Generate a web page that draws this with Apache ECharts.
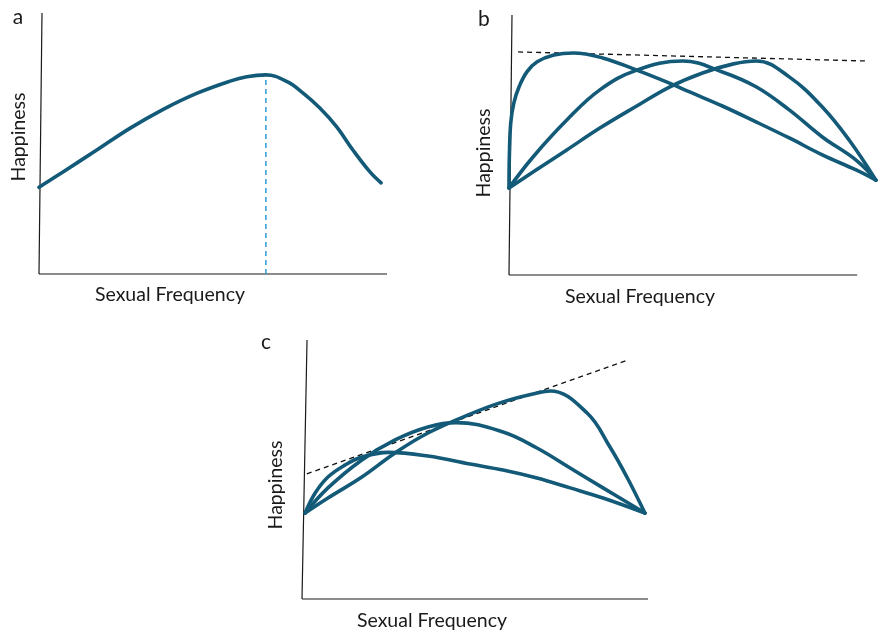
<!DOCTYPE html>
<html>
<head>
<meta charset="utf-8">
<script src="https://cdn.jsdelivr.net/npm/echarts@6/dist/echarts.min.js"></script>
<style>
html,body{margin:0;padding:0;background:#fff;}
#chart{width:878px;height:633px;}
</style>
</head>
<body>
<div id="chart"></div>
<script>
// ---- Data (x: sexual frequency, y: happiness, arbitrary 0-100 units) ----
const curveA = [[0,33.2],[7.0,39.2],[16.6,47.5],[26.1,55.8],[35.7,63.1],[45.3,69.2],[54.9,73.9],[59.7,75.6],[65.2,76.3],[71.3,73.7],[75.9,69.3],[80.7,63.6],[85.6,56.3],[90.2,47.5],[95.1,39.1],[98.3,34.9]];
const peakLineA = [[65.2,0],[65.2,76.3]];

const curveB1 = [[0,33.5],[0.1,45.4],[0.5,58.5],[1.4,66.2],[2.9,72.4],[5.2,78.2],[8.1,82.0],[12.9,84.6],[18.5,85.4],[26.9,83.5],[36.7,78.8],[46.1,73.8],[51.9,70.4],[61.3,65.0],[71.1,58.8],[80.5,52.7],[90.0,46.2],[99.7,40.4],[105.4,36.5]];
const curveB2 = [[0,33.5],[6.9,45.4],[16.6,59.6],[26.1,71.2],[36.7,78.8],[49.9,82.3],[61.3,78.1],[71.1,72.3],[80.5,63.5],[90.0,53.1],[99.7,44.2],[105.4,36.5]];
const curveB3 = [[0,33.5],[6.9,39.6],[16.6,48.1],[26.1,56.5],[36.7,65.0],[46.1,72.3],[55.6,77.7],[64.5,81.2],[71.1,82.3],[80.5,76.2],[90.0,64.6],[97.7,51.9],[105.4,36.5]];
const envelopeB = [[2.6,85.8],[102.9,82.3]];

const curveC1 = [[0.9,33.2],[3.8,40.9],[7.5,47.1],[12.4,51.7],[17.3,54.8],[25.0,56.6],[36.4,55.2],[48.6,52.1],[58.1,49.8],[67.9,46.7],[77.5,42.9],[87.0,39.0],[99.1,33.2]];
const curveC2 = [[0.9,33.2],[7.5,42.9],[17.3,53.7],[26.9,61.4],[36.4,66.4],[44.5,68.1],[58.1,64.5],[67.9,58.3],[77.5,50.6],[87.0,42.9],[99.1,33.2]];
const curveC3 = [[0.9,33.2],[7.5,39.0],[17.3,47.1],[26.9,56.4],[36.4,64.1],[48.6,71.4],[58.1,76.1],[67.9,79.5],[71.7,80.3],[82.4,71.8],[89.0,58.7],[93.9,47.1],[99.1,33.2]];
const envelopeC = [[1.4,48.3],[94.2,92.3]];

// hand-drawn axes: y axis slightly tilted [bottom, top]; x axis [start, end]
const yAxisLineA = [[0,0],[0.86,100]];
const yAxisLineB = [[0,0],[0.86,100]];
const yAxisLineC = [[0,0],[1.45,100]];
const xAxisLineA = [[0,0],[100,0]];
const xAxisLineB = [[0,0],[100,0]];
const xAxisLineC = [[0,0],[100,0]];

const panelLetters = ['a','b','c'];
const xTitle = 'Sexual Frequency';
const yTitle = 'Happiness';

// ---- Styling ----
const CURVE = '#135a78';
const FONT = 'Lato, "Open Sans", sans-serif';
const XMAX = [100, 106, 100];

const grids = [
  {left:39, top:13, width:348, height:261},
  {left:509, top:15, width:349*1.06, height:260},
  {left:302, top:340, width:346, height:259}
];

function ax(i, max){
  return {
    type:'value', gridIndex:i, min:0, max:max,
    axisLine:{show:false}, axisTick:{show:false}, axisLabel:{show:false}, splitLine:{show:false}
  };
}

function curve(data, gi){
  return {type:'line', xAxisIndex:gi, yAxisIndex:gi, data:data, smooth:0.4,
    showSymbol:false, symbol:'none', clip:false, silent:true, z:4,
    lineStyle:{color:CURVE, width:3.6, cap:'round', join:'round'}};
}
function dashed(data, gi, color, width){
  return {type:'line', xAxisIndex:gi, yAxisIndex:gi, data:data, showSymbol:false, symbol:'none',
    clip:false, silent:true, z:3,
    lineStyle:{color:color, width:width, type:[5,4]}};
}
function axisLineSeries(data, gi){
  return {type:'line', xAxisIndex:gi, yAxisIndex:gi, data:data, showSymbol:false, symbol:'none',
    clip:false, silent:true, z:1, lineStyle:{color:'#1a1a1a', width:1.2}};
}

const textEls = [];
function txt(x,y,s,size,rot){
  textEls.push({type:'text', x:x, y:y, rotation:rot||0, silent:true,
    style:{text:s, fill:'#1a1a1a', font:size+'px '+FONT, textAlign:'center', textVerticalAlign:'middle'}});
}
txt(18,17,panelLetters[0],21);
txt(484,19,panelLetters[1],21);
txt(266,342,panelLetters[2],21);
txt(170,295,xTitle,19.5);
txt(640,297,xTitle,19.5);
txt(432,621,xTitle,19.5);
txt(19,137,yTitle,19.5,Math.PI/2);
txt(484,153,yTitle,19.5,Math.PI/2);
txt(276,485,yTitle,19.5,Math.PI/2);

const chart = echarts.init(document.getElementById('chart'), null, {renderer:'canvas'});
chart.setOption({
  animation:false,
  backgroundColor:'#fff',
  grid:grids,
  xAxis:[ax(0,XMAX[0]),ax(1,XMAX[1]),ax(2,XMAX[2])],
  yAxis:[ax(0,100),ax(1,100),ax(2,100)],
  series:[
    axisLineSeries(yAxisLineA,0), axisLineSeries(xAxisLineA,0),
    axisLineSeries(yAxisLineB,1), axisLineSeries(xAxisLineB,1),
    axisLineSeries(yAxisLineC,2), axisLineSeries(xAxisLineC,2),
    dashed(peakLineA,0,'#2a9ad6',1.5),
    curve(curveA,0),
    dashed(envelopeB,1,'#111',1.3),
    curve(curveB1,1), curve(curveB2,1), curve(curveB3,1),
    dashed(envelopeC,2,'#111',1.3),
    curve(curveC1,2), curve(curveC2,2), curve(curveC3,2)
  ],
  graphic:textEls
});
</script>
</body>
</html>
